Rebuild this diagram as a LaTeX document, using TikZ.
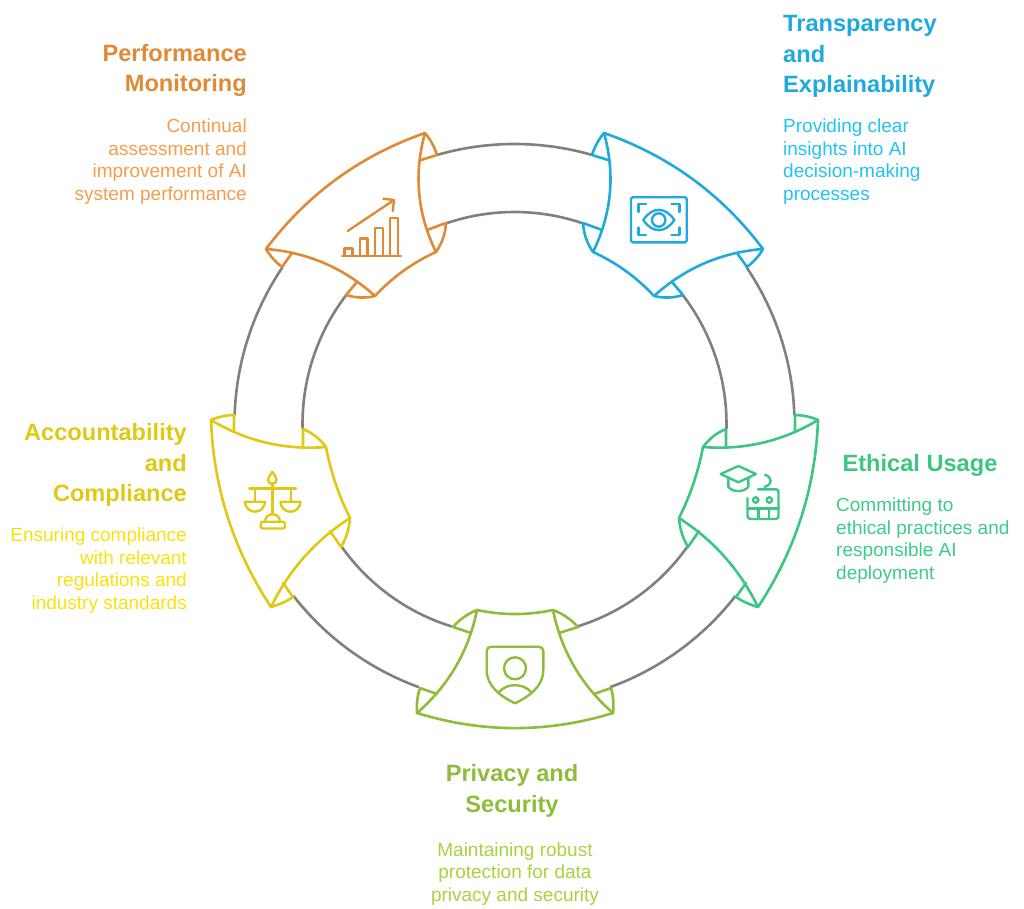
\documentclass[tikz,border=0pt]{standalone}
\usepackage{fontspec}
\setmainfont{Liberation Sans}
\definecolor{cOrange}{HTML}{E08A36}
\definecolor{cOrangeB}{HTML}{F79C4C}
\definecolor{cBlue}{HTML}{20A9DC}
\definecolor{cBlueB}{HTML}{22C3EE}
\definecolor{cTeal}{HTML}{3CC583}
\definecolor{cTealB}{HTML}{3DCB88}
\definecolor{cGreen}{HTML}{8FBC3B}
\definecolor{cGreenB}{HTML}{A8D23E}
\definecolor{cYellow}{HTML}{E0C814}
\definecolor{cYellowB}{HTML}{FBE10C}
\definecolor{cGray}{HTML}{808080}
\tikzset{
  band/.style={draw=cGray,line width=2.6pt},
  outl/.style={line width=2.6pt,line join=round,line cap=round},
  icn/.style={line width=2.4pt,line join=round,line cap=round},
  ttl/.style={inner sep=0pt,font=\bfseries\fontsize{23.6}{30.5}\selectfont},
  bdy/.style={inner sep=0pt,font=\fontsize{19}{22.7}\selectfont},
}
% curve from (x0,y0) to (x1,y1), bulging by s x chord length to the left of travel on the page
\newcommand\bow[5]{.. controls ({#1+(#3-#1)/3+(#4-#2)*(#5)*1.3333},{#2+(#4-#2)/3-(#3-#1)*(#5)*1.3333}) and ({#1+2*(#3-#1)/3+(#4-#2)*(#5)*1.3333},{#2+2*(#4-#2)/3-(#3-#1)*(#5)*1.3333}) .. (#3,#4)}
\newcommand\gband[3]{\draw[band] ($(514.5,424)+(#1:#3)$) arc[start angle=#1,end angle=#2,radius=#3];}
\usetikzlibrary{calc}
% upper side petal, drawn for the blue one and mirrored for the orange one
\newcommand\upperpetal{%
  \draw[outl] (604,133) \bow{604}{133}{763}{249}{.076} \bow{763}{249}{654}{296}{-.085} \bow{654}{296}{593}{252}{-.05} \bow{593}{252}{604}{133}{-.095} -- cycle;
  \draw[outl] (604,133) \bow{604}{133}{592}{155}{-.05} -- (608,160);
  \draw[outl] (593,252) \bow{593}{252}{583}{223}{.07} -- (602,230);
  \draw[outl] (654,296) \bow{654}{296}{683}{295}{-.07} -- (672,282);
  \draw[outl] (763,249) \bow{763}{249}{747}{267}{.05} -- (737,253);
}
% lower side petal, drawn for the teal one and mirrored for the yellow one
\newcommand\lowerpetal{%
  \draw[outl] (818,420) \bow{818}{420}{758}{607}{.07} \bow{758}{607}{679}{518}{-.07} \bow{679}{518}{703}{447}{-.035} \bow{703}{447}{818}{420}{-.08} -- cycle;
  \draw[outl] (703,447) \bow{703}{447}{726}{429}{.07} -- (726,448);
  \draw[outl] (818,420) \bow{818}{420}{795}{415}{-.05} -- (795,432);
  \draw[outl] (679,518) \bow{679}{518}{688}{547}{-.06} -- (699,531);
  \draw[outl] (758,607) \bow{758}{607}{736}{597}{.04} -- (746,583);
}
\newcommand\sidebands{%
  \gband{-34.1}{-1.8}{280}
  \gband{-37.5}{1.4}{212}
  \gband{37.9}{70}{280}
  \gband{35.4}{72.8}{212}
}
\begin{document}
\begin{tikzpicture}[x=1pt,y=-1pt]
\useasboundingbox (0,0) rectangle (1024,909);
% grey ring segments
\gband{-106.1}{-74}{280}
\gband{-109.2}{-71.3}{212}
\sidebands
\begin{scope}[shift={(1029,0)},xscale=-1]
  \sidebands
\end{scope}
% petals
\begin{scope}[draw=cBlue,cBlue]
  \upperpetal
\end{scope}
\begin{scope}[draw=cTeal,cTeal]
  \lowerpetal
\end{scope}
\begin{scope}[shift={(1029,0)},xscale=-1,draw=cOrange,cOrange]
  \upperpetal
\end{scope}
\begin{scope}[shift={(1029,0)},xscale=-1,draw=cYellow,cYellow]
  \lowerpetal
\end{scope}
\begin{scope}[draw=cGreen,cGreen]
  \draw[outl] (477,610) \bow{477}{610}{553}{610}{-.053} \bow{553}{610}{613}{713}{-.085} \bow{613}{713}{417}{713}{.077} \bow{417}{713}{477}{610}{-.085} -- cycle;
  \draw[outl] (477,610) \bow{477}{610}{453}{627}{-.06} -- (471,633);
  \draw[outl] (553,610) \bow{553}{610}{578}{627}{.06} -- (559,633);
  \draw[outl] (417,713) \bow{417}{713}{420}{688}{.05} -- (437,694);
  \draw[outl] (613,713) \bow{613}{713}{611}{688}{-.05} -- (594,694);
\end{scope}
% chart icon
\begin{scope}[icn,draw=cOrange]
  \draw (342,256) -- (401,256);
  \draw (344.3,256) -- (344.3,248.3) -- (352.3,248.3) -- (352.3,256);
  \draw (360,256) -- (360,238.3) -- (367.3,238.3) -- (367.3,256);
  \draw (375,256) -- (375,228.3) -- (382.7,228.3) -- (382.7,256);
  \draw (390,256) -- (390,218.3) -- (397.7,218.3) -- (397.7,256);
  \draw (347.7,231) -- (394,200);
  \draw (383.3,198.7) -- (394,200) -- (392.7,211);
\end{scope}
% eye icon
\begin{scope}[icn,draw=cBlue]
  \draw[rounded corners=1.5pt] (631,197.3) rectangle (686.7,242.3);
  \draw (638.3,212) -- (638.3,204.3) -- (646,204.3);
  \draw (671.5,204.3) -- (679.3,204.3) -- (679.3,212);
  \draw (638.3,227.5) -- (638.3,235) -- (646,235);
  \draw (671.5,235) -- (679.3,235) -- (679.3,227.5);
  \draw (643.3,220) .. controls (652,206.5) and (665.5,206.5) .. (674.3,220) .. controls (665.5,233.5) and (652,233.5) .. (643.3,220) -- cycle;
  \draw (658.7,220) circle[radius=6.7];
\end{scope}
% cap and robot icon
\begin{scope}[icn,draw=cTeal]
  \draw (720.7,474) -- (738.3,466) -- (756,474) -- (738.3,482.3) -- cycle;
  \draw (728.3,477.7) -- (728.3,486.7) .. controls (732,492.5) and (744.5,492.5) .. (748.3,486.7) -- (748.3,477.7);
  \draw (758,489.3) -- (776,489.3) arc[start angle=-90,end angle=0,radius=2.5] -- (778.5,516) arc[start angle=0,end angle=90,radius=3] -- (750.5,519) arc[start angle=90,end angle=180,radius=3] -- (747.5,498);
  \draw (765,489.3) -- (765,486.5) .. controls (773,485) and (772,476) .. (765,475);
  \draw (755.7,500) circle[radius=2.7];
  \draw (769.3,500) circle[radius=2.7];
  \draw (747.5,508.3) -- (778.5,508.3);
  \draw (758.3,508.3) -- (758.3,519);
  \draw (769,508.3) -- (769,519);
\end{scope}
% shield icon
\begin{scope}[icn,draw=cGreen]
  \draw (491,646.7) -- (539,646.7) arc[start angle=-90,end angle=0,radius=4.3] -- (543.3,670) .. controls (543.3,686) and (530,696) .. (515,703.3) .. controls (500,696) and (486.7,686) .. (486.7,670) -- (486.7,651) arc[start angle=180,end angle=270,radius=4.3];
  \draw (515,668.3) circle[radius=11];
  \draw (499.3,691.7) .. controls (507,683) and (523,683) .. (530.7,691.7);
\end{scope}
% scales icon
\begin{scope}[icn,draw=cYellow]
  \draw (249.3,488.3) -- (296,488.3);
  \draw (272.3,483.3) -- (272.3,514);
  \draw (272.3,471.7) .. controls (269.5,476) and (268,478) .. (268,480) .. controls (268,485) and (276.6,485) .. (276.6,480) .. controls (276.6,478) and (275,476) .. (272.3,471.7) -- cycle;
  \draw (255,488.3) -- (255,501.7);
  \draw (290.7,488.3) -- (290.7,501.7);
  \draw (245,501.7) -- (265,501.7) arc[start angle=0,end angle=180,radius=10] -- cycle;
  \draw (280.5,501.7) -- (300.5,501.7) arc[start angle=0,end angle=180,radius=10] -- cycle;
  \draw (265,521.7) arc[start angle=180,end angle=360,radius=7.5];
  \draw[rounded corners=1.5pt] (260.7,521.7) rectangle (285,528.5);
\end{scope}
% labels
\node[ttl,text=cOrange,align=right,anchor=base east] (t1) at (247,92) {Performance\\Monitoring};
\node[bdy,text=cOrangeB,align=right,anchor=base east] (b1) at (247,200.5) {Continual\\assessment and\\improvement of AI\\system performance};
\node[ttl,text=cBlue,align=left,anchor=base west] (t2) at (783,93) {Transparency\\and\\Explainability};
\node[bdy,text=cBlueB,align=left,anchor=base west] (b2) at (783,200.5) {Providing clear\\insights into AI\\decision-making\\processes};
\node[ttl,text=cTeal,anchor=base] (t3) at (920,471) {Ethical Usage};
\node[bdy,text=cTealB,align=left,anchor=base west] (b3) at (836,579.5) {Committing to\\ethical practices and\\responsible AI\\deployment};
\node[ttl,text=cGreen,align=center,anchor=base] (t4) at (512,812) {Privacy and\\Security};
\node[bdy,text=cGreenB,align=center,anchor=base] (b4) at (515,901.5) {Maintaining robust\\protection for data\\privacy and security};
\node[ttl,text=cYellow,align=right,anchor=base east] (t5) at (187,501.5) {Accountability\\and\\Compliance};
\node[bdy,text=cYellowB,align=right,anchor=base east] (b5) at (187,609.5) {Ensuring compliance\\with relevant\\regulations and\\industry standards};
\end{tikzpicture}
\end{document}
